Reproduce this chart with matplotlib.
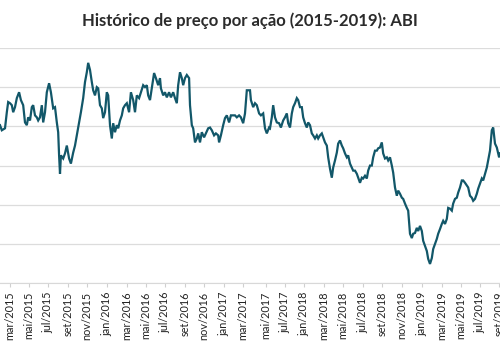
import matplotlib
matplotlib.use("Agg")
from matplotlib import pyplot as plt

# Pregões (índice de sessão) e preço de fechamento
sessao = [0, 4, 11, 15, 18, 22, 26, 29, 33, 37, 42, 46, 51, 55, 59, 62, 66, 70, 73, 77,
          81, 84, 88, 92, 95, 99, 103, 108, 112, 117, 121, 125, 128, 130, 132, 134, 139, 143, 147, 152,
          156, 161, 165, 169, 174, 178, 183, 187, 191, 194, 198, 202, 205, 209, 213, 216, 220, 224, 227, 231,
          235, 238, 242, 246, 249, 253, 257, 260, 264, 268, 271, 275, 279, 284, 288, 293, 297, 301, 306, 310,
          315, 319, 323, 326, 330, 334, 339, 343, 348, 352, 354, 359, 363, 367, 372, 376, 381, 385, 389, 392,
          396, 400, 403, 407, 411, 416, 418, 422, 425, 429, 433, 436, 440, 444, 449, 453, 458, 462, 466, 471,
          475, 480, 482, 486, 491, 495, 499, 504, 508, 513, 517, 521, 526, 530, 535, 539, 543, 548, 550, 552,
          557, 561, 565, 570, 574, 579, 583, 587, 592, 594, 598, 601, 605, 609, 614, 618, 623, 627, 631, 634,
          638, 642, 645, 649, 653, 656, 660, 664, 667, 671, 675, 678, 682, 686, 689, 693, 697, 700, 704, 708,
          711, 715, 719, 722, 726, 730, 733, 737, 741, 744, 748, 752, 755, 759, 763, 766, 770, 774, 777, 781,
          785, 788, 792, 796, 799, 803, 807, 810, 814, 818, 821, 825, 829, 832, 836, 840, 843, 847, 851, 854,
          858, 862, 865, 869, 873, 876, 880, 884, 887, 891, 895, 898, 902, 906, 909, 913, 917, 920, 924, 928,
          931, 935, 939, 942, 946, 950, 953, 957, 961, 964, 968, 972, 975, 979, 983, 986, 990, 994, 997, 1001,
          1005, 1008, 1012, 1016, 1019, 1023, 1027, 1030, 1034, 1038, 1041, 1045, 1049, 1052, 1056, 1060, 1063, 1067, 1071, 1074,
          1078, 1082, 1085, 1089, 1093, 1098, 1100]
preco = [100.3, 99.0, 99.5, 103.6, 106.2, 105.9, 105.4, 103.6, 104.9, 107.2, 108.7, 106.7, 105.4, 101.0, 100.3, 102.3, 101.5, 104.9, 105.4, 102.8,
         102.3, 101.5, 102.3, 105.4, 101.0, 103.6, 108.7, 111.0, 108.7, 104.6, 104.9, 101.0, 98.5, 92.6, 87.9, 92.6, 91.8, 93.1, 95.1, 91.8,
         90.5, 93.3, 95.1, 97.7, 101.0, 103.6, 107.2, 111.3, 113.8, 116.2, 114.4, 111.3, 109.2, 107.9, 110.0, 109.7, 105.4, 104.6, 102.1, 103.6,
         108.7, 107.9, 100.3, 96.9, 100.8, 98.5, 100.3, 99.5, 101.5, 102.8, 104.6, 105.4, 105.9, 103.6, 108.7, 106.7, 103.6, 107.9, 107.2, 108.7,
         110.5, 110.0, 110.5, 107.9, 106.7, 109.7, 113.6, 112.3, 110.5, 112.3, 109.7, 107.9, 108.7, 107.4, 108.7, 107.4, 108.7, 107.2, 105.9, 110.5,
         113.8, 112.3, 110.5, 112.3, 113.1, 112.3, 105.4, 100.3, 99.5, 95.9, 96.9, 98.2, 95.9, 98.5, 97.2, 98.2, 99.5, 99.7, 99.0, 97.7,
         98.2, 97.7, 95.9, 97.7, 100.3, 102.1, 102.8, 101.0, 102.8, 102.8, 102.8, 102.3, 102.8, 102.3, 100.8, 103.3, 109.2, 109.2, 109.2, 106.7,
         104.9, 105.9, 105.4, 103.3, 102.8, 103.3, 99.5, 98.2, 99.7, 99.5, 102.3, 105.4, 102.3, 101.0, 100.8, 99.7, 101.5, 102.3, 103.3, 100.8,
         99.7, 103.3, 104.9, 105.9, 107.2, 106.7, 104.9, 104.9, 102.3, 100.8, 99.7, 101.0, 100.3, 98.2, 97.7, 96.9, 97.7, 96.9, 97.7, 98.2,
         97.2, 95.9, 95.1, 92.1, 89.2, 86.9, 89.5, 91.3, 93.3, 95.6, 96.4, 95.1, 94.4, 93.1, 92.1, 92.6, 90.5, 89.5, 88.7, 88.7,
         87.9, 86.9, 85.6, 86.9, 86.7, 87.4, 86.7, 88.7, 90.0, 90.0, 92.1, 93.8, 93.8, 94.4, 94.6, 95.9, 93.1, 91.8, 92.1, 91.3,
         92.1, 90.0, 88.2, 84.4, 82.3, 83.6, 82.8, 81.8, 81.5, 80.3, 79.2, 78.5, 72.6, 71.5, 72.6, 72.8, 74.1, 73.3, 74.6, 73.3,
         70.8, 69.5, 68.2, 66.2, 64.9, 66.4, 68.7, 70.0, 71.3, 72.6, 73.8, 75.1, 75.9, 75.1, 76.4, 79.2, 79.0, 78.5, 80.3, 81.5,
         81.8, 83.1, 84.4, 86.2, 86.2, 85.6, 84.9, 84.4, 82.3, 81.8, 81.0, 81.5, 82.8, 84.1, 85.4, 86.7, 86.2, 87.9, 89.5, 91.3,
         93.8, 99.0, 99.7, 95.6, 94.6, 92.1, 93.1]

# Rótulos do eixo x (sessão onde cada mês começa)
tick_sessao = [22, 64, 106, 150, 191, 235, 279, 321, 363, 407, 449, 493, 535,
               585, 627, 669, 713, 755, 799, 840, 884, 928, 972, 1014, 1056, 1098]
tick_rotulo = ["mar/2015", "mai/2015", "jul/2015", "set/2015", "nov/2015", "jan/2016",
               "mar/2016", "mai/2016", "jul/2016", "set/2016", "nov/2016", "jan/2017",
               "mar/2017", "mai/2017", "jul/2017", "jan/2018", "mar/2018", "mai/2018",
               "jul/2018", "set/2018", "nov/2018", "jan/2019", "mar/2019", "mai/2019",
               "jul/2019", "set/2019"]

plt.rcParams["font.family"] = ["Lato", "DejaVu Sans"]

fig = plt.figure(figsize=(5, 3.5), dpi=100)
ax = fig.add_axes([0, 0.191, 1, 0.672])

ax.plot(sessao, preco, color="#125769", linewidth=1.6, solid_joinstyle="miter")

ax.set_xlim(0, 1100)
ax.set_ylim(60, 120)
ax.set_yticks(range(60, 121, 10))
ax.grid(axis="y", color="#dcdcdc", linewidth=0.9)
ax.set_axisbelow(True)
ax.tick_params(axis="y", left=False, labelleft=False)

ax.set_xticks(tick_sessao)
ax.set_xticklabels(tick_rotulo, rotation=90, fontsize=7.8, color="#222222")
ax.tick_params(axis="x", length=3, color="#d0d0d0", pad=3)

for lado in ["top", "left", "right"]:
    ax.spines[lado].set_visible(False)
ax.spines["bottom"].set_color("#d8d8d8")

fig.text(0.5, 0.942, "Histórico de preço por ação (2015-2019): ABI",
         ha="center", va="center", fontsize=12, fontweight="bold", color="#2b2b2b")

fig.savefig("out.png", dpi=100)
